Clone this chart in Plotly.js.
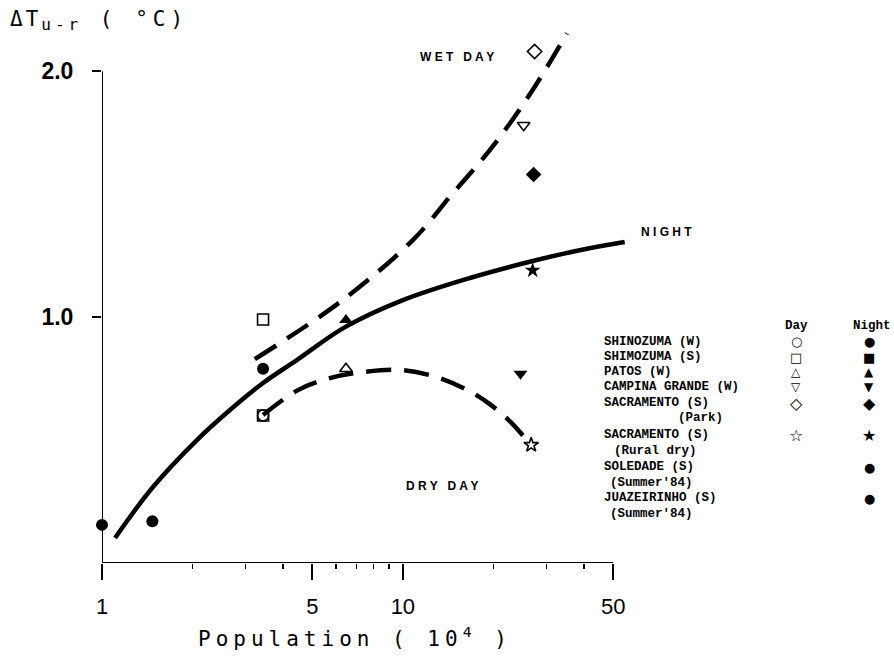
<!DOCTYPE html>
<html>
<head>
<meta charset="utf-8">
<script src="https://cdn.plot.ly/plotly-3.0.1.min.js"></script>
<style>html,body{margin:0;padding:0;background:#fff;}#chart{width:894px;height:656px;}</style>
</head>
<body>
<div id="chart"></div>
<script>
// ---- data ----
const sites = ['SHINOZUMA (W)', 'SHIMOZUMA (S)', 'PATOS (W)', 'CAMPINA GRANDE (W)',
               'SACRAMENTO (S) Park', 'SACRAMENTO (S) Rural dry', 'SOLEDADE (S)', 'JUAZEIRINHO (S)'];
// day observations (population in 10^4, delta T in C)
const dayPop = [[3.43], [3.43, 3.43], [6.47], [25.2], [27.4], [26.7], [], []];
const dayDT  = [[0.60], [0.99, 0.60], [0.79], [1.78], [2.08], [0.48], [], []];
// night observations
const nightPop = [[3.43], [], [6.47], [24.6], [27.2], [27.0], [1.47], [1.0]];
const nightDT  = [[0.79], [], [0.988], [0.77], [1.58], [1.19], [0.17], [0.155]];

// fitted curves
const nightCurvePop = [1.105, 1.477, 2.068, 2.662, 3.43, 4.44, 6.42, 10.0, 16.7, 27.0, 38.7, 54.6];
const nightCurveDT  = [0.102, 0.309, 0.500, 0.622, 0.732, 0.825, 0.959, 1.069, 1.159, 1.228, 1.272, 1.305];
const wetCurvePop = [3.22, 6.18, 10.79, 14.66, 18.03, 21.0, 25.4, 30.1, 35.1];
const wetCurveDT  = [0.829, 1.061, 1.313, 1.504, 1.630, 1.732, 1.874, 2.016, 2.154];
const dryCurvePop = [3.43, 4.48, 5.72, 7.31, 9.77, 12.97, 16.4, 19.45, 23.0, 26.6];
const dryCurveDT  = [0.602, 0.703, 0.752, 0.776, 0.785, 0.756, 0.703, 0.646, 0.569, 0.480];

const xTickVals = [1, 5, 10, 50];
const xTickText = ['1', '5', '10', '50'];
const xMinorVals = [2, 3, 4, 6, 7, 8, 9, 20, 30, 40];
const yTickVals = [1, 2];
const yTickText = ['1.0', '2.0'];

// legend table text
const legendRows = ['SHINOZUMA (W)', 'SHIMOZUMA (S)', 'PATOS (W)', 'CAMPINA GRANDE (W)',
  'SACRAMENTO (S)', '(Park)', 'SACRAMENTO (S)', '(Rural dry)', 'SOLEDADE (S)', "(Summer'84)",
  'JUAZEIRINHO (S)', "(Summer'84)"];
const legendDayGlyphs   = ['○', '□', '△', '▽', '◇', '', '☆', '', '', '', '', ''];
const legendNightGlyphs = ['●', '■', '▲', '▼', '◆', '', '★', '', '●', '', '●', ''];

// ---- styles ----
const daySymbols   = ['circle-open', 'square-open', 'triangle-up-open', 'triangle-down-open', 'diamond-open', 'star-open', 'circle-open', 'circle-open'];
const nightSymbols = ['circle', 'square', 'triangle-up', 'triangle-down', 'diamond', 'star', 'circle', 'circle'];
const glyphSizes   = [13, 13, 12, 12, 16, 0, 16, 0, 13, 0, 13, 0];

const traces = [];
traces.push({x: nightCurvePop, y: nightCurveDT, mode: 'lines', line: {color: '#000', width: 4.5, shape: 'spline', smoothing: 1}});
traces.push({x: wetCurvePop, y: wetCurveDT, mode: 'lines', line: {color: '#000', width: 4.5, shape: 'spline', smoothing: 1, dash: '25px,13px'}});
traces.push({x: dryCurvePop, y: dryCurveDT, mode: 'lines', line: {color: '#000', width: 4.5, shape: 'spline', smoothing: 1, dash: '25px,13px'}});
sites.forEach((s, i) => {
  if (dayPop[i].length) traces.push({x: dayPop[i], y: dayDT[i], mode: 'markers', name: s + ' day', cliponaxis: false,
    marker: {symbol: daySymbols[i], size: 11, color: '#000', line: {color: '#000', width: 1.6}}});
  if (nightPop[i].length) traces.push({x: nightPop[i], y: nightDT[i], mode: 'markers', name: s + ' night', cliponaxis: false,
    marker: {symbol: nightSymbols[i], size: 12, color: '#000', line: {width: 0}}});
});

// pixel -> paper helpers for text placement
const L = 102, R = 637, T = 22, B = 563;
const px = v => (v - L) / (R - L);
const py = v => (B - v) / (B - T);
const A = (o) => Object.assign({xref: 'paper', yref: 'paper', showarrow: false, xanchor: 'center', yanchor: 'middle'}, o);

const ann = [];
const lblFont = {family: 'Liberation Sans, Arial, sans-serif', size: 12, color: '#000'};
ann.push(A({x: px(457), y: py(57), text: '<b>W E T   D A Y</b>', font: lblFont}));
ann.push(A({x: px(666), y: py(232), text: '<b>N I G H T</b>', font: lblFont}));
ann.push(A({x: px(442), y: py(486), text: '<b>D R Y   D A Y</b>', font: lblFont}));

// axis titles
ann.push(A({x: px(8), y: py(21), xanchor: 'left',
  text: '<span style="letter-spacing:3px">ΔT</span><sub><span style="font-size:16px;letter-spacing:4px">u-r</span></sub><span style="letter-spacing:5px"> ( °C)</span>',
  font: {family: 'DejaVu Sans Mono, monospace', size: 21, color: '#000'}}));
ann.push(A({x: px(355), y: py(637),
  text: '<span style="letter-spacing:5px">Population ( 10<sup>4</sup> )</span>',
  font: {family: 'DejaVu Sans Mono, monospace', size: 21, color: '#000'}}));

// legend table
const rowY = [342, 357, 372, 387, 403, 418, 435, 451, 467, 483, 498, 514];
const rowX = [602, 602, 602, 602, 602, 676, 602, 612, 602, 608, 602, 608];
const legFont = {family: 'Liberation Mono, DejaVu Sans Mono, monospace', size: 12.5, color: '#000'};
ann.push(A({x: px(796), y: py(326), text: '<b>Day</b>', font: legFont}));
ann.push(A({x: px(872), y: py(326), text: '<b>Night</b>', font: legFont}));
legendRows.forEach((t, i) => {
  ann.push(A({x: px(rowX[i]), y: py(rowY[i]), xanchor: 'left', text: '<b>' + t + '</b>', font: legFont}));
  const gf = {family: 'DejaVu Sans, sans-serif', size: glyphSizes[i], color: '#000', weight: 'bold'};
  if (legendDayGlyphs[i]) ann.push(A({x: px(796), y: py(rowY[i]), text: legendDayGlyphs[i], font: gf}));
  if (legendNightGlyphs[i]) ann.push(A({x: px(869), y: py(rowY[i]), text: legendNightGlyphs[i], font: gf}));
});

const layout = {
  width: 894, height: 656,
  margin: {l: L, r: 894 - R, t: T, b: 656 - B, pad: 0},
  paper_bgcolor: '#fff', plot_bgcolor: '#fff',
  showlegend: false,
  hovermode: false,
  xaxis: {
    type: 'log', range: [0, Math.log10(60)],
    showline: false, showgrid: false, zeroline: false,
    tickmode: 'array', tickvals: xTickVals, ticktext: xTickText,
    ticks: 'outside', ticklen: 16, tickwidth: 2, tickcolor: '#000',
    ticklabelstandoff: 8,
    tickfont: {family: 'Liberation Sans, Arial, sans-serif', size: 22, color: '#000'},
    minor: {tickmode: 'array', tickvals: xMinorVals, ticks: 'outside', ticklen: 5, tickwidth: 1.5, tickcolor: '#000', showgrid: false}
  },
  yaxis: {
    range: [0, 2.2],
    showline: false, showgrid: false, zeroline: false,
    tickmode: 'array', tickvals: yTickVals, ticktext: yTickText,
    ticks: 'outside', ticklen: 9, tickwidth: 2, tickcolor: '#000',
    ticklabelstandoff: 14,
    tickfont: {family: 'Liberation Sans, Arial, sans-serif', size: 23, color: '#000', weight: 'bold'}
  },
  shapes: [
    {type: 'line', xref: 'x', yref: 'y', x0: 1, x1: 50, y0: 0, y1: 0, line: {color: '#000', width: 2}},
    {type: 'line', xref: 'x', yref: 'y', x0: 1, x1: 1, y0: -0.04, y1: 2.0, line: {color: '#000', width: 2}}
  ],
  annotations: ann
};

Plotly.newPlot('chart', traces, layout, {staticPlot: true, displayModeBar: false});
</script>
</body>
</html>
